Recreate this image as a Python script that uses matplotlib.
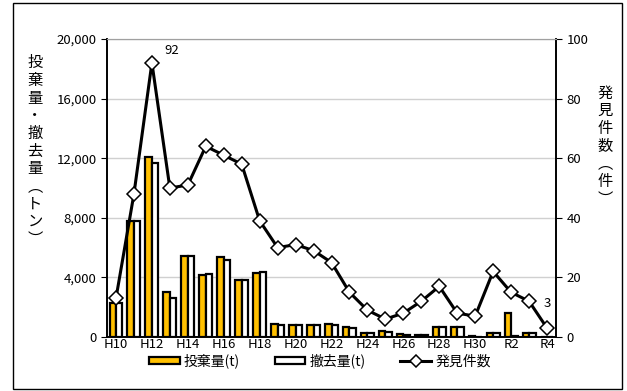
import matplotlib
matplotlib.use("Agg")
import matplotlib.pyplot as plt
import numpy as np
from matplotlib.patches import Rectangle
from matplotlib.ticker import FuncFormatter

plt.rcParams["font.family"] = ["Noto Sans CJK JP", "DejaVu Sans"]

years = ["H10", "H11", "H12", "H13", "H14", "H15", "H16", "H17", "H18", "H19",
         "H20", "H21", "H22", "H23", "H24", "H25", "H26", "H27", "H28", "H29",
         "H30", "R1", "R2", "R3", "R4"]
# 投棄量(t)
dumped = [2250, 7800, 12100, 3000, 5430, 4150, 5350, 3850, 4300, 850,
          780, 800, 850, 650, 300, 380, 180, 120, 690, 690,
          40, 250, 1620, 300, 30]
# 撤去量(t)
removed = [2250, 7800, 11700, 2620, 5430, 4200, 5200, 3850, 4350, 820,
           780, 780, 830, 600, 260, 340, 130, 110, 690, 690,
           30, 250, 60, 250, 20]
# 発見件数
cases = [13, 48, 92, 50, 51, 64, 61, 58, 39, 30,
         31, 29, 25, 15, 9, 6, 8, 12, 17, 8,
         7, 22, 15, 12, 3]

x = np.arange(len(years))
w = 0.36

fig = plt.figure(figsize=(6.27, 3.91), dpi=100)
ax = fig.add_axes([107 / 627, 1 - 337 / 391, 449 / 627, 298 / 391])

ax.bar(x - w / 2, dumped, w, color="#FFC000", edgecolor="black", linewidth=1.6,
       label="投棄量(t)", zorder=2)
ax.bar(x + w / 2, removed, w, color="white", edgecolor="black", linewidth=1.6,
       label="撤去量(t)", zorder=2)
ax.set_ylim(0, 20000)
ax.set_xlim(-0.5, len(years) - 0.5)
ax.set_yticks(range(0, 20001, 4000))
ax.yaxis.set_major_formatter(FuncFormatter(lambda v, p: f"{int(v):,}"))
ax.grid(axis="y", color="#d0d0d0", linewidth=1, zorder=0)
ax.set_axisbelow(True)
ax.set_xticks(x[::2])
ax.set_xticklabels(years[::2])
ax.tick_params(axis="x", length=0, labelsize=9.5, pad=1)
ax.tick_params(axis="y", length=4, labelsize=9.5, direction="out")
for s in ["left", "bottom", "right"]:
    ax.spines[s].set_color("black")
    ax.spines[s].set_linewidth(1.2)
ax.spines["top"].set_color("#a0a0a0")

ax2 = ax.twinx()
ax2.plot(x, cases, color="black", linewidth=2.2, marker="D", markersize=7.5,
         markerfacecolor="white", markeredgecolor="black", markeredgewidth=1.1,
         label="発見件数", zorder=3)
ax2.set_ylim(0, 100)
ax2.set_yticks(range(0, 101, 20))
ax2.tick_params(axis="y", length=4, labelsize=9.5, direction="out")
for s in ["left", "bottom", "right"]:
    ax2.spines[s].set_color("black")
    ax2.spines[s].set_linewidth(1.2)
ax2.spines["top"].set_color("#a0a0a0")

ax2.annotate(str(cases[2]), (x[2], cases[2]), xytext=(14, 9),
             textcoords="offset points", fontsize=9.5, ha="center", va="center")
ax2.annotate(str(cases[-1]), (x[-1], cases[-1]), xytext=(0, 18),
             textcoords="offset points", fontsize=9.5, ha="center", va="center")

fig.text(35 / 627, 1 - 151 / 391,
         "投\n棄\n量\n・\n撤\n去\n量\n︵\nト\nン\n︶",
         ha="center", va="center", fontsize=11, linespacing=1.05)
fig.text(605 / 627, 1 - 146 / 391,
         "発\n見\n件\n数\n︵\n件\n︶",
         ha="center", va="center", fontsize=11, linespacing=1.05)

h1, l1 = ax.get_legend_handles_labels()
h2, l2 = ax2.get_legend_handles_labels()
fig.legend(h1 + h2, l1 + l2, loc="center", bbox_to_anchor=(320 / 627, 1 - 361 / 391),
           ncol=3, frameon=False, fontsize=10, handlelength=2.2, handleheight=0.5,
           columnspacing=2.5, handletextpad=0.3, markerscale=0.8, borderpad=0)

fig.patches.append(Rectangle((13 / 627, 0.004), 609 / 627, 0.988,
                             transform=fig.transFigure, fill=False,
                             edgecolor="black", linewidth=1))

fig.savefig("out.png", dpi=100)
